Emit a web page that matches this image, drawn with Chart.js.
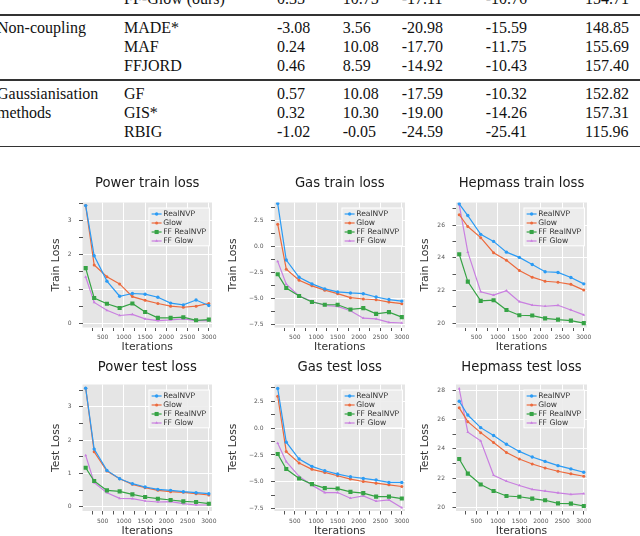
<!DOCTYPE html>
<html>
<head>
<meta charset="utf-8">
<script src="https://cdn.jsdelivr.net/npm/chart.js@4.4.1/dist/chart.umd.min.js"></script>
<style>
  html, body { margin: 0; padding: 0; width: 640px; height: 536px; overflow: hidden; background: #fff; }
  #tabela { position: absolute; left: 0; top: 0; width: 640px; height: 160px; font-family: 'Liberation Serif', 'Times New Roman', serif; font-size: 16px; color: #111; }
  .cel { position: absolute; white-space: nowrap; line-height: 16px; }
  .regra { position: absolute; left: 0; width: 640px; height: 1.6px; background: #333; }
  .grafico { position: absolute; }
</style>
</head>
<body>
<div id="tabela"></div>
<div id="graficos"></div>
<script>
// Tabela (parte visível no topo)
const grupos = ['', 'Non-coupling', '', '', 'Gaussianisation', 'methods', ''];
const metodos = ['FF-Glow (ours)', 'MADE*', 'MAF', 'FFJORD', 'GF', 'GIS*', 'RBIG'];
const colPower = ['0.35', '-3.08', '0.24', '0.46', '0.57', '0.32', '-1.02'];
const colGas = ['10.75', '3.56', '10.08', '8.59', '10.08', '10.30', '-0.05'];
const colHepmass = ['-17.11', '-20.98', '-17.70', '-14.92', '-17.59', '-19.00', '-24.59'];
const colMiniboone = ['-10.76', '-15.59', '-11.75', '-10.43', '-10.32', '-14.26', '-25.41'];
const colBsds = ['154.71', '148.85', '155.69', '157.40', '152.82', '157.31', '115.96'];

// Gráficos
const iteracoes = [100, 300, 600, 900, 1200, 1500, 1800, 2100, 2400, 2700, 3000];
const marcasX = [250, 500, 750, 1000, 1250, 1500, 1750, 2000, 2250, 2500, 2750, 3000];
const nomesSeries = ['RealNVP', 'Glow', 'FF RealNVP', 'FF Glow'];

const powerTreinoRealNVP = [3.43, 1.97, 1.23, 0.79, 0.87, 0.85, 0.76, 0.59, 0.54, 0.68, 0.52];
const powerTreinoGlow = [3.43, 1.70, 1.36, 1.15, 0.78, 0.67, 0.58, 0.50, 0.47, 0.50, 0.58];
const powerTreinoFFRealNVP = [1.61, 0.74, 0.57, 0.45, 0.58, 0.33, 0.16, 0.16, 0.18, 0.09, 0.11];
const powerTreinoFFGlow = [1.35, 0.61, 0.38, 0.23, 0.26, 0.13, 0.08, 0.10, 0.13, 0.08, 0.08];

const gasTreinoRealNVP = [4.12, -1.29, -2.95, -3.58, -4.06, -4.35, -4.45, -4.52, -4.84, -5.08, -5.23];
const gasTreinoGlow = [2.14, -2.17, -3.23, -3.77, -4.18, -4.52, -4.90, -5.03, -5.10, -5.32, -5.48];
const gasTreinoFFRealNVP = [-2.65, -3.97, -4.74, -5.32, -5.58, -5.58, -6.03, -5.90, -6.45, -6.29, -6.77];
const gasTreinoFFGlow = [-1.42, -3.60, -4.74, -5.25, -5.65, -5.74, -6.15, -6.87, -6.94, -7.27, -7.33];

const hepTreinoRealNVP = [27.30, 26.58, 25.43, 25.00, 24.34, 24.02, 23.59, 23.14, 23.10, 22.79, 22.40];
const hepTreinoGlow = [26.63, 25.91, 25.23, 24.31, 23.85, 23.22, 22.81, 22.56, 22.50, 22.37, 22.02];
const hepTreinoFFRealNVP = [24.21, 22.54, 21.36, 21.40, 20.80, 20.48, 20.46, 20.29, 20.21, 20.15, 20.00];
const hepTreinoFFGlow = [27.25, 24.34, 21.92, 21.71, 21.98, 21.31, 21.10, 21.03, 21.09, 20.80, 20.50];

const powerTesteRealNVP = [3.56, 1.73, 1.09, 0.84, 0.69, 0.59, 0.52, 0.49, 0.45, 0.42, 0.39];
const powerTesteGlow = [3.56, 1.65, 1.07, 0.84, 0.67, 0.57, 0.49, 0.45, 0.43, 0.39, 0.35];
const powerTesteFFRealNVP = [1.17, 0.77, 0.49, 0.46, 0.37, 0.29, 0.24, 0.20, 0.16, 0.14, 0.09];
const powerTesteFFGlow = [1.54, 0.72, 0.42, 0.25, 0.24, 0.17, 0.14, 0.15, 0.09, 0.05, 0.05];

const gasTesteRealNVP = [3.69, -1.31, -2.88, -3.56, -3.97, -4.28, -4.53, -4.69, -4.84, -5.06, -5.06];
const gasTesteGlow = [2.97, -2.19, -3.25, -3.84, -4.13, -4.44, -4.75, -4.97, -5.13, -5.28, -5.44];
const gasTesteFFRealNVP = [-2.41, -3.81, -4.69, -5.22, -5.59, -5.63, -5.94, -6.06, -6.38, -6.38, -6.56];
const gasTesteFFGlow = [-1.41, -3.13, -4.50, -5.31, -6.00, -6.00, -6.53, -6.31, -6.81, -6.69, -7.41];

const hepTesteRealNVP = [27.25, 26.31, 25.45, 24.91, 24.32, 23.83, 23.45, 23.15, 22.86, 22.64, 22.41];
const hepTesteGlow = [26.80, 25.86, 25.11, 24.44, 23.76, 23.31, 22.97, 22.70, 22.48, 22.30, 22.14];
const hepTesteFFRealNVP = [23.31, 22.32, 21.58, 21.13, 20.79, 20.74, 20.61, 20.50, 20.29, 20.27, 20.11];
const hepTesteFFGlow = [28.10, 25.14, 24.55, 22.21, 21.80, 21.51, 21.24, 21.13, 21.01, 20.90, 20.95];

const cores = ['#2B9BF4', '#EC6A3D', '#36A345', '#C97FE0'];
const marcadores = [
  { estilo: 'circle', raio: 1.7 },
  { estilo: 'circle', raio: 1.5 },
  { estilo: 'rect', raio: 2.9 },
  { estilo: 'triangle', raio: 1.7 }
];

// ---- tabela ----
const tabela = document.getElementById('tabela');
const colunasX = [-3, 124, 277, 342.7, 401.7, 485.7, 585];
const linhasBase = [4.5, 33.6, 52.3, 71, 99.6, 118.6, 137.6];
const regrasY = [15, 80, 146.5];
const colunas = [grupos, metodos, colPower, colGas, colHepmass, colMiniboone, colBsds];
colunas.forEach((col, c) => {
  col.forEach((txt, r) => {
    if (!txt) return;
    const s = document.createElement('span');
    s.className = 'cel';
    s.textContent = txt;
    s.style.left = colunasX[c] + 'px';
    s.style.top = (linhasBase[r] - 13.4) + 'px';
    tabela.appendChild(s);
  });
});
regrasY.forEach(y => {
  const d = document.createElement('div');
  d.className = 'regra';
  d.style.top = (y - 0.8) + 'px';
  tabela.appendChild(d);
});

// ---- plugins ----
const fundoCinza = {
  id: 'fundoCinza',
  beforeDraw(chart) {
    const { ctx, chartArea: a } = chart;
    ctx.save();
    ctx.fillStyle = '#E5E5E5';
    ctx.fillRect(a.left, a.top, a.right - a.left, a.bottom - a.top);
    ctx.restore();
  }
};

const legendaInterna = {
  id: 'legendaInterna',
  afterDatasetsDraw(chart) {
    const { ctx, chartArea: a } = chart;
    const sets = chart.data.datasets;
    ctx.save();
    ctx.font = '7.6px "DejaVu Sans"';
    const largTexto = Math.max(...sets.map(d => ctx.measureText(d.label).width));
    const passo = 9, amostra = 10;
    const w = 2.7 + amostra + 1.6 + largTexto + 3.3;
    const h = 6 + passo * (sets.length - 1) + 4.8;
    const x0 = a.right - 2.5 - w;
    const y0 = a.top + 5.5;
    ctx.fillStyle = 'rgba(236,236,236,0.9)';
    ctx.fillRect(x0, y0, w, h);
    ctx.strokeStyle = '#ffffff';
    ctx.lineWidth = 1;
    ctx.strokeRect(x0, y0, w, h);
    sets.forEach((d, i) => {
      const y = y0 + 6 + passo * i;
      ctx.strokeStyle = d.borderColor;
      ctx.lineWidth = d.borderWidth;
      ctx.beginPath();
      ctx.moveTo(x0 + 2.7, y);
      ctx.lineTo(x0 + 2.7 + amostra, y);
      ctx.stroke();
      ctx.fillStyle = d.borderColor;
      Chart.helpers.drawPoint(ctx, { pointStyle: d.pointStyle, radius: d.pointRadius, rotation: 0, borderWidth: 0 }, x0 + 2.7 + amostra / 2, y);
      ctx.fillStyle = '#333';
      ctx.textBaseline = 'middle';
      ctx.textAlign = 'left';
      ctx.fillText(d.label, x0 + 2.7 + amostra + 1.6, y + 0.5);
    });
    ctx.restore();
  }
};

// ---- gráficos ----
const colunasGrafico = [
  { esq: 82.5, dir: 212, tituloYX: 56 },
  { esq: 274.5, dir: 405, tituloYX: 233.3 },
  { esq: 456, dir: 587, tituloYX: 425 }
];
const linhasGrafico = [
  { topo: 202.5, base: 327.5, tituloY: 184, iterY: 346.7 },
  { topo: 384.5, base: 511, tituloY: 368, iterY: 530.7 }
];

const menos = v => String(v).replace('-', '\u2212');
const formatoPower = v => (Math.abs(v - Math.round(v)) < 1e-6 ? String(Math.round(v)) : '');
const formatoGas = v => (Math.abs(v / 2.5 - Math.round(v / 2.5)) < 1e-6 ? menos(v.toFixed(1)) : '');
const formatoHep = v => (Math.abs(v / 2 - Math.round(v / 2)) < 1e-6 ? String(Math.round(v)) : '');
const formatoX = v => (v % 500 === 0 ? String(v) : '');

const graficos = [
  { titulo: 'Power train loss', rotuloY: 'Train Loss', col: 0, lin: 0, min: -0.12, max: 3.52, passo: 0.5, fmt: formatoPower,
    series: [powerTreinoRealNVP, powerTreinoGlow, powerTreinoFFRealNVP, powerTreinoFFGlow] },
  { titulo: 'Gas train loss', rotuloY: 'Train Loss', col: 1, lin: 0, min: -7.76, max: 4.22, passo: 1.25, fmt: formatoGas,
    series: [gasTreinoRealNVP, gasTreinoGlow, gasTreinoFFRealNVP, gasTreinoFFGlow] },
  { titulo: 'Hepmass train loss', rotuloY: 'Train Loss', col: 2, lin: 0, min: 19.73, max: 27.38, passo: 1, fmt: formatoHep,
    series: [hepTreinoRealNVP, hepTreinoGlow, hepTreinoFFRealNVP, hepTreinoFFGlow] },
  { titulo: 'Power test loss', rotuloY: 'Test Loss', col: 0, lin: 1, min: -0.13, max: 3.67, passo: 0.5, fmt: formatoPower,
    series: [powerTesteRealNVP, powerTesteGlow, powerTesteFFRealNVP, powerTesteFFGlow] },
  { titulo: 'Gas test loss', rotuloY: 'Test Loss', col: 1, lin: 1, min: -7.72, max: 4.06, passo: 1.25, fmt: formatoGas,
    series: [gasTesteRealNVP, gasTesteGlow, gasTesteFFRealNVP, gasTesteFFGlow] },
  { titulo: 'Hepmass test loss', rotuloY: 'Test Loss', col: 2, lin: 1, min: 19.77, max: 28.39, passo: 1, fmt: formatoHep,
    series: [hepTesteRealNVP, hepTesteGlow, hepTesteFFRealNVP, hepTesteFFGlow] }
];

const fonte = '"DejaVu Sans", Verdana, sans-serif';
const tamTitulo = 13.2, tamEixo = 10.8;

function criarGrafico(g) {
  const c = colunasGrafico[g.col];
  const l = linhasGrafico[g.lin];
  const lhTitulo = tamTitulo * 1.2;
  const lhEixo = tamEixo * 1.2;

  const canvasLeft = Math.floor(c.tituloYX - lhEixo / 2);
  const canvasTop = Math.floor(l.tituloY - lhTitulo / 2 - 2);
  const larguraEixoY = c.esq - canvasLeft;
  const padTituloY = c.tituloYX - lhEixo / 2 - canvasLeft;
  const alturaEixoX = l.iterY + lhEixo / 2 - l.base;
  const W = Math.ceil(c.dir - canvasLeft + 10);
  const H = Math.ceil(l.iterY + lhEixo / 2 + 2 - canvasTop);
  const padTopoTitulo = l.tituloY - canvasTop - lhTitulo / 2;
  const padBaixoTitulo = l.topo - l.tituloY - lhTitulo / 2;
  const padDir = W - (c.dir - canvasLeft);
  const padInf = H - (l.base - canvasTop) - alturaEixoX;

  const caixa = document.createElement('div');
  caixa.className = 'grafico';
  caixa.style.left = canvasLeft + 'px';
  caixa.style.top = canvasTop + 'px';
  const canvas = document.createElement('canvas');
  canvas.width = W;
  canvas.height = H;
  canvas.style.width = W + 'px';
  canvas.style.height = H + 'px';
  caixa.appendChild(canvas);
  document.getElementById('graficos').appendChild(caixa);

  const datasets = g.series.map((valores, i) => ({
    label: nomesSeries[i],
    data: valores.map((v, k) => ({ x: iteracoes[k], y: v })),
    borderColor: cores[i],
    backgroundColor: cores[i],
    borderWidth: 1.2,
    pointStyle: marcadores[i].estilo,
    pointRadius: marcadores[i].raio,
    pointBorderWidth: 0,
    pointBackgroundColor: cores[i],
    tension: 0
  }));

  new Chart(canvas, {
    type: 'line',
    data: { datasets },
    options: {
      responsive: false,
      animation: false,
      layout: { padding: { left: 0, top: 0, right: padDir, bottom: padInf } },
      plugins: {
        legend: { display: false },
        tooltip: { enabled: false },
        title: {
          display: true, text: g.titulo, fullSize: false, color: '#1a1a1a',
          font: { family: fonte, size: tamTitulo, weight: 'normal', lineHeight: 1.2 },
          padding: { top: padTopoTitulo, bottom: padBaixoTitulo }
        }
      },
      scales: {
        x: {
          type: 'linear', min: 25, max: 3075,
          afterBuildTicks: s => { s.ticks = marcasX.map(v => ({ value: v })); },
          afterFit: s => { s.height = alturaEixoX; },
          border: { display: false },
          grid: {
            color: ctx => (ctx.tick && formatoX(ctx.tick.value) !== '' ? '#ffffff' : 'rgba(0,0,0,0)'),
            tickColor: '#555', tickLength: 3.5, lineWidth: 1
          },
          ticks: {
            autoSkip: false, maxRotation: 0, padding: 3,
            color: '#555', font: { family: fonte, size: 6 },
            callback: v => formatoX(v)
          },
          title: {
            display: true, text: 'Iterations', color: '#333',
            font: { family: fonte, size: tamEixo, lineHeight: 1.2 }, padding: { top: 0, bottom: 0 }
          }
        },
        y: {
          type: 'linear', min: g.min, max: g.max,
          afterFit: s => { s.width = larguraEixoY; },
          border: { display: false },
          grid: {
            color: ctx => (ctx.tick && g.fmt(ctx.tick.value) !== '' ? '#ffffff' : 'rgba(0,0,0,0)'),
            tickColor: '#555', tickLength: 3.5, lineWidth: 1
          },
          ticks: {
            stepSize: g.passo, includeBounds: false, autoSkip: false, padding: 7.5,
            color: '#555', font: { family: fonte, size: 6 },
            callback: v => g.fmt(v)
          },
          title: {
            display: true, text: g.rotuloY, color: '#333',
            font: { family: fonte, size: tamEixo, lineHeight: 1.2 }, padding: { top: padTituloY, bottom: 0 }
          }
        }
      }
    },
    plugins: [fundoCinza, legendaInterna]
  });
}

graficos.forEach(criarGrafico);
</script>
</body>
</html>
